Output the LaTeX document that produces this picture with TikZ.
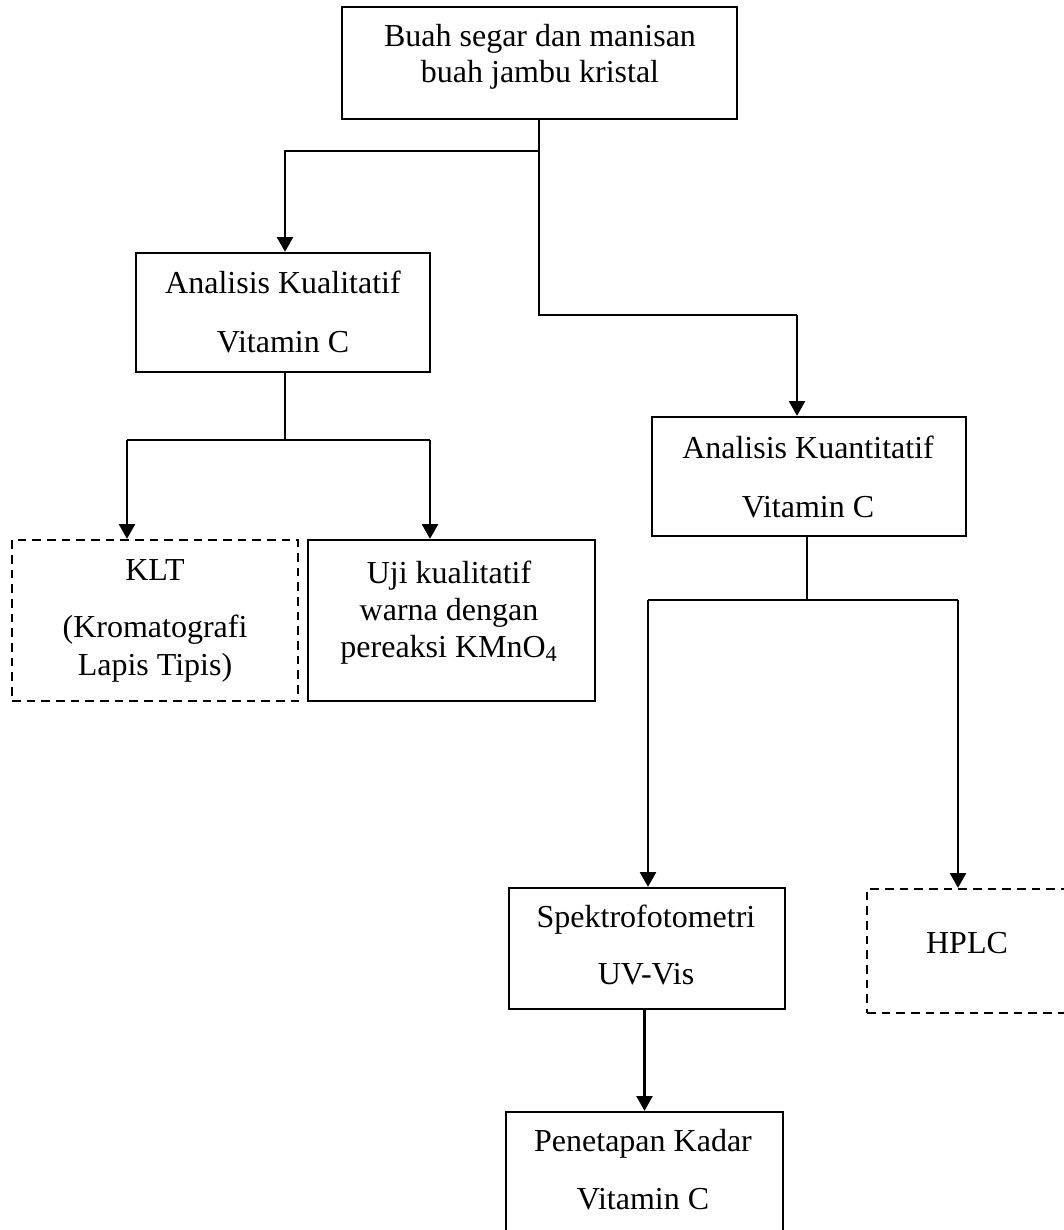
\documentclass[tikz,border=0pt]{standalone}
\usepackage{fontspec}
\setmainfont{Liberation Serif}
\usetikzlibrary{arrows.meta}
\begin{document}
\begin{tikzpicture}[x=0.75pt,y=-0.75pt,
  box/.style={draw=black,line width=1.8pt,inner sep=0pt},
  dbox/.style={box,dash pattern=on 6.5pt off 4.5pt},
  txt/.style={anchor=base,inner sep=0pt,font=\fontsize{24}{28}\selectfont},
  conn/.style={draw=black,line width=1.6pt},
  arr/.style={conn,-{Triangle[width=12pt,length=11pt]}}]
\useasboundingbox (0,0) rectangle (1063,1230);
% boxes
\node[box,minimum width=296.25pt,minimum height=84pt] (top) at (539.5,63) {};
\node[box,minimum width=220.5pt,minimum height=89.25pt] (kl) at (283,312.5) {};
\node[box,minimum width=235.5pt,minimum height=89.25pt] (kn) at (809,476.5) {};
\node[dbox,minimum width=214.5pt,minimum height=120.75pt] (klt) at (155,620.5) {};
\node[box,minimum width=215.25pt,minimum height=120.75pt] (uji) at (451.5,620.5) {};
\node[box,minimum width=207pt,minimum height=90.75pt] (sp) at (647,948.5) {};
\node[dbox,minimum width=156pt,minimum height=93pt] (hplc) at (971,951) {};
\node[box,minimum width=207.75pt,minimum height=96pt] (pk) at (644.5,1176) {};
% texts
\node[txt] (t1) at (540,47) {Buah segar dan manisan};
\node[txt] (t2) at (540,83) {buah jambu kristal};
\node[txt] (t3) at (283,294) {Analisis Kualitatif};
\node[txt] (t4) at (283,352) {Vitamin C};
\node[txt] (t5) at (808,458) {Analisis Kuantitatif};
\node[txt] (t6) at (808,517) {Vitamin C};
\node[txt] (t7) at (155,580) {KLT};
\node[txt] (t8) at (155,637) {(Kromatografi};
\node[txt] (t9) at (155,675) {Lapis Tipis)};
\node[txt] (t10) at (449,583) {Uji kualitatif};
\node[txt] (t11) at (449,620) {warna dengan};
\node[txt] (t12) at (449,657) {pereaksi KMnO\textsubscript{4}};
\node[txt] (t13) at (646,927) {Spektrofotometri};
\node[txt] (t14) at (646,984) {UV-Vis};
\node[txt] (t15) at (967,953) {HPLC};
\node[txt] (t16) at (643,1151) {Penetapan Kadar};
\node[txt] (t17) at (643,1209) {Vitamin C};
% junctions
\coordinate (j1) at (539,151);
\coordinate (j1l) at (285,151);
\coordinate (j2) at (539,315);
\coordinate (j3) at (797,315);
\coordinate (k1) at (285,440);
\coordinate (k1l) at (127,440);
\coordinate (k1r) at (430,440);
\coordinate (q1) at (807,600);
\coordinate (q1l) at (648,600);
\coordinate (q1r) at (958,600);
% connectors
\draw[conn] (top.south -| j1) -- (j2) -- (j3);
\draw[arr] (j3) -- (j3 |- kn.north);
\draw[arr] (j1) -- (j1l) -- (j1l |- kl.north);
\draw[conn] (k1 |- kl.south) -- (k1);
\draw[conn] (k1l) -- (k1r);
\draw[arr] (k1l) -- (k1l |- klt.north);
\draw[arr] (k1r) -- (k1r |- uji.north);
\draw[conn] (q1 |- kn.south) -- (q1);
\draw[conn] (q1l) -- (q1r);
\draw[arr] (q1l) -- (q1l |- sp.north);
\draw[arr] (q1r) -- (q1r |- hplc.north);
\draw[arr] (sp.south -| pk.north) -- (pk.north);
\end{tikzpicture}
\end{document}
